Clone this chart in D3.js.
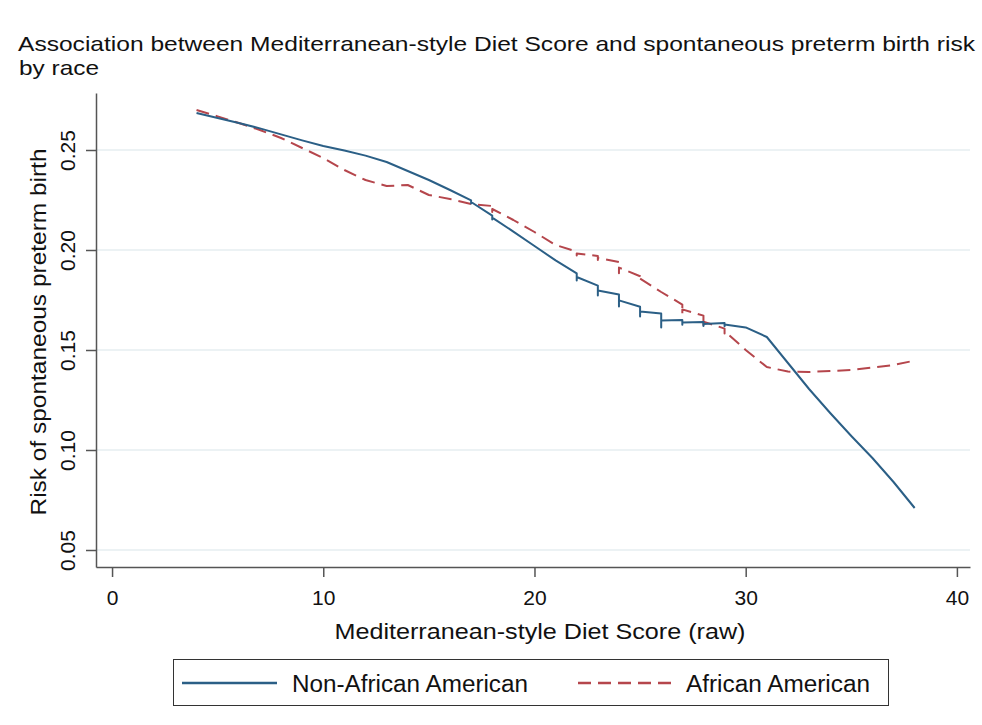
<!DOCTYPE html>
<html>
<head>
<meta charset="utf-8">
<script src="https://cdn.jsdelivr.net/npm/d3@7"></script>
<style>
  body { margin: 0; background: #fff; }
  svg { display: block; font-family: "Liberation Sans", Arial, sans-serif; }
</style>
</head>
<body>
<svg width="982" height="725"></svg>
<script>
// diet score (raw)
const scores = [4, 5, 6, 7, 8, 9, 10, 11, 12, 13, 14, 15, 16, 17, 18, 19, 20, 21,
  22, 23, 24, 25, 26, 27, 28, 29, 30, 31, 32, 33, 34, 35, 36, 37, 38];
// predicted risk, non-African American
const riskNonAA = [0.2685, 0.2660, 0.2635, 0.2608, 0.2578, 0.2548, 0.2520, 0.2497, 0.2472, 0.2440,
  0.2395, 0.2350, 0.2300, 0.2240, 0.2162, 0.2092, 0.2020, 0.1948, 0.1865, 0.1797, 0.1748, 0.1692,
  0.1648, 0.1638, 0.1630, 0.1627, 0.1613, 0.1565, 0.1435, 0.1305, 0.1185, 0.1070, 0.0960, 0.0840, 0.0710];
// spread of predictions at the same score, non-African American
const spreadNonAA = [0, 0, 0, 0, 0, 0, 0, 0, 0, 0, 0, 0, 0, 0.0008, 0.001, 0, 0, 0,
  0.0018, 0.0025, 0.003, 0.0024, 0.0035, 0.0012, 0.001, 0.0008, 0, 0, 0, 0, 0, 0, 0, 0, 0];
// predicted risk, African American
const riskAA = [0.2700, 0.2668, 0.2635, 0.2600, 0.2560, 0.2510, 0.2460, 0.2400, 0.2350, 0.2320,
  0.2325, 0.2275, 0.2255, 0.2230, 0.2205, 0.2150, 0.2090, 0.2025, 0.1982, 0.1960, 0.1912, 0.1857,
  0.1790, 0.1703, 0.1642, 0.1595, 0.1500, 0.1415, 0.1392, 0.1390, 0.1395, 0.1400, 0.1412, 0.1425, 0.1447];
const spreadAA = [0, 0, 0, 0, 0, 0, 0, 0, 0, 0, 0, 0, 0, 0, 0.0015, 0, 0, 0,
  0.001, 0.001, 0.0028, 0.0012, 0, 0.0024, 0.003, 0.0012, 0, 0, 0, 0, 0, 0, 0, 0, 0];

const xTicks = [0, 10, 20, 30, 40];
const yTicks = [0.05, 0.10, 0.15, 0.20, 0.25];
const seriesNames = ["Non-African American", "African American"];

const svg = d3.select("svg");
const blue = "#2b5f86", red = "#b5464c";

// plot region
const x = d3.scaleLinear().domain([-0.76, 40.62]).range([96, 970]);
const y = d3.scaleLinear().domain([0.0415, 0.2785]).range([567, 93]);

// title
svg.append("text").attr("x", 18).attr("y", 51)
  .attr("font-size", 21).attr("fill", "#111")
  .attr("textLength", 957).attr("lengthAdjust", "spacingAndGlyphs")
  .text("Association between Mediterranean-style Diet Score and spontaneous preterm birth risk");
svg.append("text").attr("x", 19).attr("y", 75)
  .attr("font-size", 21).attr("fill", "#111")
  .attr("textLength", 80).attr("lengthAdjust", "spacingAndGlyphs")
  .text("by race");

// gridlines
svg.append("g").selectAll("line").data(yTicks).join("line")
  .attr("x1", x.range()[0]).attr("x2", x.range()[1])
  .attr("y1", d => y(d)).attr("y2", d => y(d))
  .attr("stroke", "#e6eef0").attr("stroke-width", 1.5);

// axes
const yAxis = svg.append("g").attr("transform", "translate(96,0)")
  .call(d3.axisLeft(y).tickValues(yTicks).tickFormat(d3.format(".2f")).tickSize(10).tickSizeOuter(0));
yAxis.selectAll("text")
  .attr("transform", "translate(-21,0) rotate(-90)")
  .attr("x", 0).attr("y", 0).attr("dy", 0)
  .attr("text-anchor", "middle");

const xAxis = svg.append("g").attr("transform", "translate(0,567)")
  .call(d3.axisBottom(x).tickValues(xTicks).tickSize(10).tickSizeOuter(0));
xAxis.selectAll("text").attr("dy", 0).attr("y", 38);

svg.selectAll(".domain").attr("stroke", "#555").attr("stroke-width", 1.5);
svg.selectAll(".tick line").attr("stroke", "#555").attr("stroke-width", 1.5);
svg.selectAll(".tick text").attr("font-size", 21).attr("fill", "#111")
  .attr("font-family", "'Liberation Sans', Arial, sans-serif");

// axis titles
svg.append("text").attr("transform", "translate(46,332) rotate(-90)")
  .attr("text-anchor", "middle").attr("font-size", 22).attr("fill", "#111")
  .attr("textLength", 367).attr("lengthAdjust", "spacingAndGlyphs")
  .text("Risk of spontaneous preterm birth");
svg.append("text").attr("x", 540).attr("y", 639)
  .attr("text-anchor", "middle").attr("font-size", 22).attr("fill", "#111")
  .attr("textLength", 411).attr("lengthAdjust", "spacingAndGlyphs")
  .text("Mediterranean-style Diet Score (raw)");

// series: at scores with spread, the line runs up and down through the spread
function points(risk, spread) {
  const pts = [];
  scores.forEach((s, i) => {
    if (spread[i] > 0) {
      pts.push([s, risk[i] + spread[i]], [s, risk[i] - spread[i]], [s, risk[i]]);
    } else {
      pts.push([s, risk[i]]);
    }
  });
  return pts;
}
const line = d3.line().x(d => x(d[0])).y(d => y(d[1]));

svg.append("path").datum(points(riskAA, spreadAA))
  .attr("fill", "none").attr("stroke", red).attr("stroke-width", 2)
  .attr("stroke-dasharray", "13,7").attr("stroke-linejoin", "round")
  .attr("d", line);
svg.append("path").datum(points(riskNonAA, spreadNonAA))
  .attr("fill", "none").attr("stroke", blue).attr("stroke-width", 2)
  .attr("stroke-linejoin", "round")
  .attr("d", line);

// legend
const lg = svg.append("g");
lg.append("rect").attr("x", 173.5).attr("y", 659.5).attr("width", 715).attr("height", 46)
  .attr("fill", "#fff").attr("stroke", "#333").attr("stroke-width", 1);
lg.append("line").attr("x1", 182).attr("x2", 277).attr("y1", 683).attr("y2", 683)
  .attr("stroke", blue).attr("stroke-width", 2.5);
lg.append("line").attr("x1", 578).attr("x2", 672).attr("y1", 683).attr("y2", 683)
  .attr("stroke", red).attr("stroke-width", 2.5).attr("stroke-dasharray", "13,7");
lg.append("text").attr("x", 292).attr("y", 692).attr("font-size", 23).attr("fill", "#111")
  .attr("textLength", 236).attr("lengthAdjust", "spacingAndGlyphs").text(seriesNames[0]);
lg.append("text").attr("x", 686).attr("y", 692).attr("font-size", 23).attr("fill", "#111")
  .attr("textLength", 184).attr("lengthAdjust", "spacingAndGlyphs").text(seriesNames[1]);
</script>
</body>
</html>
